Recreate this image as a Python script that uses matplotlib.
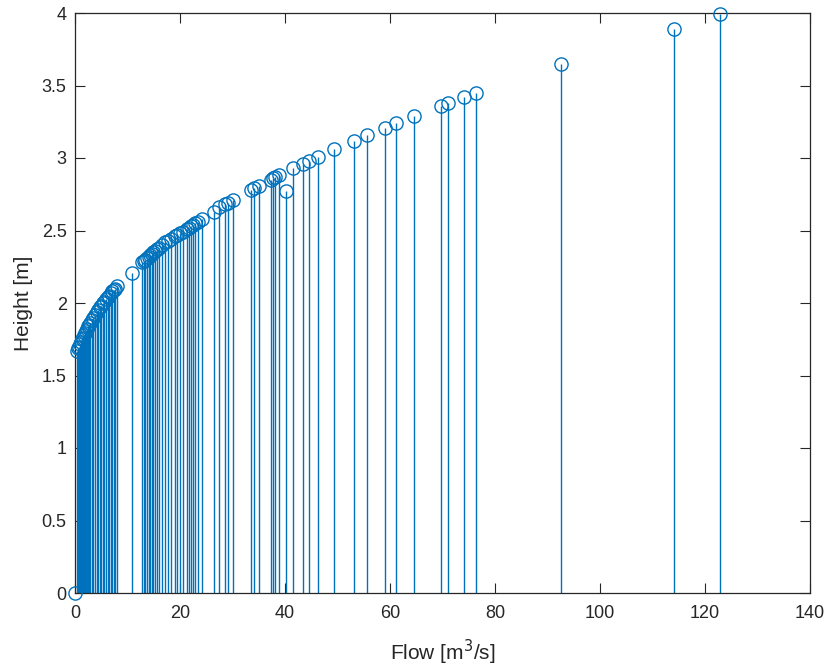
import matplotlib
matplotlib.use("Agg")
import matplotlib.pyplot as plt
from matplotlib.ticker import FuncFormatter

plt.rcParams['font.family'] = ['Liberation Sans', 'DejaVu Sans']

flow = [0, 0.3, 0.5, 0.7, 0.9, 1.1, 1.3, 1.5, 1.7, 1.9, 2.1, 2.3, 2.5, 2.7, 2.9,
        3.2, 3.5, 3.8, 4.1, 4.4, 4.7, 5.0, 5.3, 5.6, 5.9, 6.2, 6.5, 6.8, 7.1, 7.4,
        7.7, 8.0, 10.9, 12.8, 13.1, 13.4, 13.7, 14.0, 14.3, 14.6, 14.9, 15.2, 15.6,
        16.0, 16.6, 17.2, 17.8, 18.2, 19.0, 19.4, 20.0, 20.5, 21.3, 21.7, 22.1,
        22.5, 22.9, 23.5, 24.1, 26.4, 27.5, 28.5, 29.2, 30.1, 33.6, 34.1, 35.1,
        37.3, 37.7, 38.1, 38.8, 40.1, 41.6, 43.4, 44.5, 46.2, 49.3, 53.1, 55.7,
        59.0, 61.1, 64.5, 69.7, 71.1, 74.1, 76.4, 92.6, 114.1, 122.9]
height = [0, 1.67, 1.69, 1.70, 1.72, 1.73, 1.75, 1.76, 1.78, 1.79, 1.81, 1.82, 1.84,
          1.85, 1.86, 1.88, 1.90, 1.92, 1.94, 1.95, 1.97, 1.98, 2.00, 2.01, 2.03,
          2.04, 2.05, 2.07, 2.08, 2.09, 2.10, 2.12, 2.21, 2.28, 2.29, 2.30, 2.31,
          2.32, 2.33, 2.34, 2.35, 2.36, 2.37, 2.38, 2.40, 2.42, 2.43, 2.44, 2.46,
          2.47, 2.48, 2.49, 2.51, 2.52, 2.53, 2.54, 2.55, 2.56, 2.58, 2.63, 2.66,
          2.68, 2.69, 2.71, 2.78, 2.79, 2.81, 2.85, 2.86, 2.87, 2.88, 2.77, 2.93,
          2.96, 2.98, 3.01, 3.06, 3.12, 3.16, 3.21, 3.24, 3.29, 3.36, 3.38, 3.42,
          3.45, 3.65, 3.89, 3.99]

xticks = [0, 20, 40, 60, 80, 100, 120, 140]
yticks = [0, 0.5, 1, 1.5, 2, 2.5, 3, 3.5, 4]

color = '#0072BD'
axcol = '#262626'

fig = plt.figure(figsize=(8.31, 6.70), dpi=100)
ax = fig.add_axes([75/831, 1 - 593/670, 735/831, 580/670])

ml, sl, bl = ax.stem(flow, height, basefmt=' ')
plt.setp(sl, color=color, linewidth=1.0)
plt.setp(ml, color=color, marker='o', markerfacecolor='none',
         markeredgecolor=color, markersize=9.5, markeredgewidth=1.0,
         clip_on=False, zorder=3)

ax.set_xlim(0, 140)
ax.set_ylim(0, 4)
ax.set_xticks(xticks)
ax.set_yticks(yticks)
ax.yaxis.set_major_formatter(FuncFormatter(lambda v, p: ('%g' % v)))
ax.tick_params(direction='in', length=7, width=0.8, colors=axcol,
               labelsize=13, top=True, right=True)
ax.tick_params(axis='x', pad=9)
ax.tick_params(axis='y', pad=6)
for s in ax.spines.values():
    s.set_color(axcol)
    s.set_linewidth(0.9)

ax.set_xlabel('Flow [m$^3$/s]', fontsize=15, color=axcol, labelpad=11)
ax.set_ylabel('Height [m]', fontsize=15, color=axcol, labelpad=6)

fig.savefig('out.png', dpi=100)
